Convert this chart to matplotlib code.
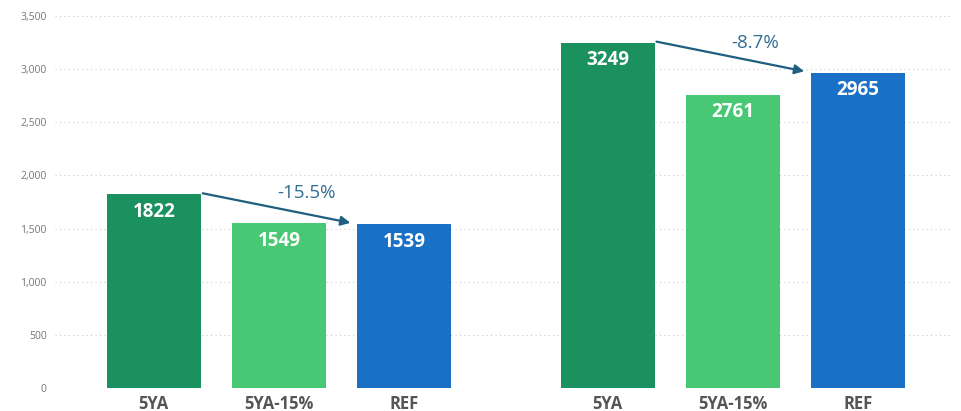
import matplotlib
matplotlib.use("Agg")
import matplotlib.pyplot as plt
from matplotlib.ticker import FuncFormatter

categories = ["5YA", "5YA-15%", "REF", "5YA", "5YA-15%", "REF"]
values = [1822, 1549, 1539, 3249, 2761, 2965]
colors = ["#1a915f", "#48c774", "#1a70c4", "#1a915f", "#48c774", "#1a70c4"]
positions = [0, 1, 2, 3.625, 4.625, 5.625]

plt.rcParams['font.family'] = ['Open Sans', 'DejaVu Sans']

fig = plt.figure(figsize=(9.61, 4.11), dpi=100)
ax = fig.add_axes([0.0572, 0.056, 0.9314, 0.905])

ax.bar(positions, values, width=0.75, color=colors, zorder=3)
for x, v in zip(positions, values):
    ax.text(x, v - 165, str(v), ha='center', va='center', color='white',
            fontsize=13.5, fontweight='bold', zorder=4)

ax.set_xlim(-0.79, 6.36)
ax.set_ylim(0, 3500)
ax.set_yticks(range(0, 3501, 500))
ax.yaxis.set_major_formatter(FuncFormatter(lambda v, p: f"{int(v):,}"))
ax.set_xticks(positions)
ax.set_xticklabels(categories, fontsize=12, fontweight='bold', color='#555555')
ax.tick_params(axis='x', length=0, pad=5)
ax.tick_params(axis='y', length=0, labelsize=7.5, labelcolor='#777777', pad=6)
ax.grid(axis='y', color='#cccccc', linestyle=(0, (1, 3)), linewidth=0.8, zorder=0)
for s in ax.spines.values():
    s.set_visible(False)

# arrows and percent change
pairs = [(0, 2), (3, 5)]
arrow_color = "#1f5f80"
for i, j in pairs:
    xs = positions[i] + 0.39
    ys = values[i] + 10
    xe = positions[j] - 0.43
    ye = values[j] + 15
    ax.annotate("", xy=(xe, ye), xytext=(xs, ys),
                arrowprops=dict(arrowstyle='-|>', color=arrow_color, lw=1.6,
                                mutation_scale=14, shrinkA=0, shrinkB=0), zorder=5)
    pct = (values[j] - values[i]) / values[i] * 100
    tx = (positions[i] + positions[j]) / 2 + (0.22 if i == 0 else 0.18)
    ty = values[i] + 15 if i == 0 else values[i] - 5
    ax.text(tx, ty, f"{pct:.1f}%", ha='center', va='center', color='#2f6d92', fontsize=13.5)

fig.savefig("out.png", dpi=100)
